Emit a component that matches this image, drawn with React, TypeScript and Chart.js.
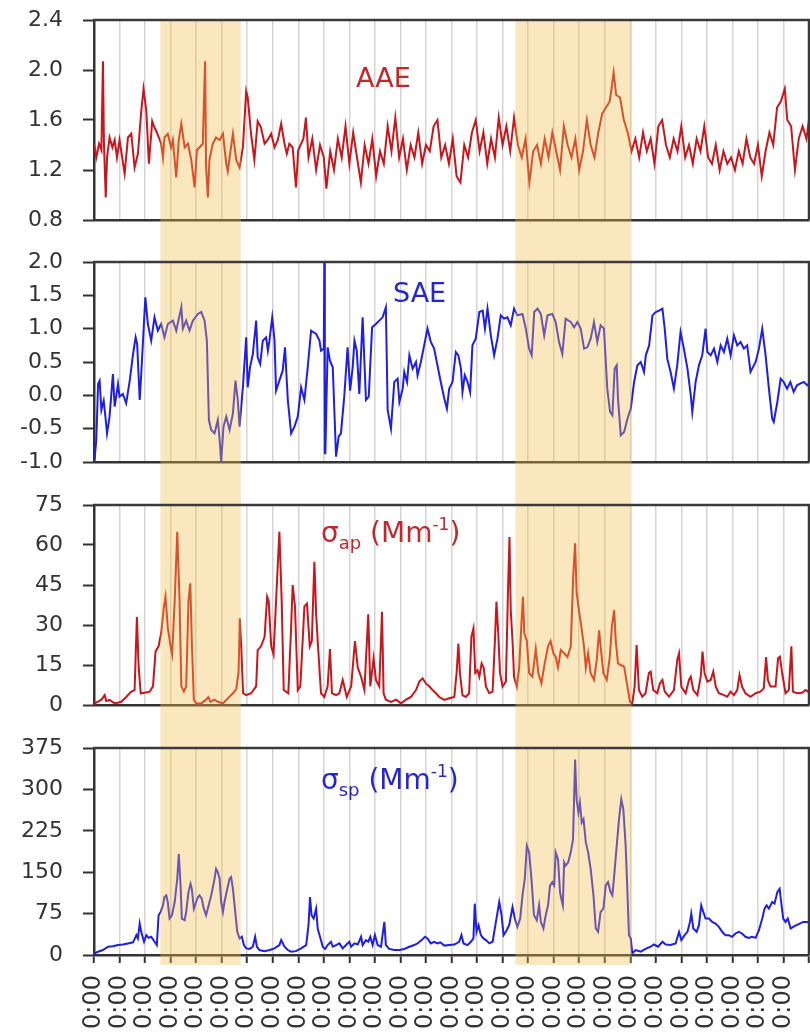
import React, { useEffect, useRef } from 'react';
import { Chart, registerables } from 'chart.js';

Chart.register(...registerables);

// ---- time axis (days), tick labels and shaded episodes ----
const dayCount = 28;
const dayTickLabel = '0:00';
const episodeStarts = [2.6, 16.5];
const episodeEnds = [5.75, 21.05];

// ---- series: [day, value] ----
const aaeSeries: [number, number][] = [
  [0.0, 1.41], [0.09, 1.3], [0.2, 1.41], [0.29, 1.36], [0.35, 2.07], [0.39, 1.41], [0.46, 0.98], [0.51, 1.3],
  [0.61, 1.46], [0.72, 1.38], [0.81, 1.44], [0.9, 1.3], [1.0, 1.44], [1.2, 1.17], [1.33, 1.46], [1.46, 1.49],
  [1.59, 1.22], [1.72, 1.33], [1.85, 1.67], [1.94, 1.85], [2.05, 1.67], [2.15, 1.25], [2.28, 1.59], [2.37, 1.54],
  [2.44, 1.51], [2.54, 1.46], [2.63, 1.41], [2.7, 1.3], [2.76, 1.46], [2.89, 1.49], [3.02, 1.38], [3.09, 1.44],
  [3.22, 1.14], [3.32, 1.44], [3.42, 1.57], [3.55, 1.38], [3.68, 1.41], [3.81, 1.28], [3.94, 1.06], [4.03, 1.36],
  [4.13, 1.38], [4.26, 1.41], [4.35, 2.07], [4.39, 1.22], [4.46, 0.98], [4.52, 1.28], [4.65, 1.41], [4.78, 1.46],
  [4.92, 1.44], [5.05, 1.49], [5.18, 1.25], [5.24, 1.19], [5.31, 1.3], [5.44, 1.49], [5.57, 1.28], [5.7, 1.22],
  [5.83, 1.38], [5.96, 1.83], [6.02, 1.78], [6.15, 1.49], [6.28, 1.28], [6.41, 1.59], [6.54, 1.54], [6.68, 1.41],
  [6.8, 1.44], [6.94, 1.49], [7.07, 1.38], [7.2, 1.44], [7.33, 1.57], [7.46, 1.41], [7.55, 1.33], [7.65, 1.41],
  [7.78, 1.38], [7.91, 1.06], [8.0, 1.36], [8.2, 1.45], [8.3, 1.62], [8.4, 1.3], [8.55, 1.45], [8.7, 1.2],
  [8.85, 1.4], [9.0, 1.3], [9.1, 1.05], [9.25, 1.35], [9.4, 1.2], [9.55, 1.45], [9.7, 1.3], [9.85, 1.55],
  [10.0, 1.25], [10.15, 1.5], [10.3, 1.3], [10.45, 1.1], [10.6, 1.4], [10.75, 1.25], [10.9, 1.45], [11.05, 1.15],
  [11.2, 1.35], [11.35, 1.25], [11.5, 1.55], [11.65, 1.35], [11.8, 1.62], [11.95, 1.3], [12.1, 1.45], [12.25, 1.2],
  [12.4, 1.4], [12.55, 1.3], [12.7, 1.5], [12.85, 1.25], [13.0, 1.4], [13.15, 1.35], [13.3, 1.55], [13.45, 1.6],
  [13.6, 1.3], [13.75, 1.4], [13.9, 1.25], [14.05, 1.45], [14.2, 1.15], [14.35, 1.1], [14.5, 1.4], [14.65, 1.3],
  [14.8, 1.5], [14.95, 1.6], [15.1, 1.35], [15.25, 1.5], [15.4, 1.25], [15.55, 1.45], [15.7, 1.3], [15.85, 1.62],
  [16.0, 1.4], [16.15, 1.55], [16.3, 1.35], [16.45, 1.62], [16.6, 1.4], [16.75, 1.3], [16.9, 1.45], [17.05, 1.1],
  [17.2, 1.35], [17.35, 1.4], [17.5, 1.25], [17.65, 1.45], [17.8, 1.3], [17.95, 1.5], [18.1, 1.35], [18.25, 1.2],
  [18.4, 1.55], [18.55, 1.4], [18.7, 1.3], [18.85, 1.45], [19.0, 1.2], [19.15, 1.35], [19.3, 1.6], [19.45, 1.4],
  [19.6, 1.3], [19.75, 1.5], [19.9, 1.65], [20.05, 1.7], [20.2, 1.75], [20.35, 1.98], [20.45, 1.8], [20.6, 1.78],
  [20.75, 1.6], [20.9, 1.5], [21.05, 1.35], [21.2, 1.45], [21.35, 1.3], [21.5, 1.5], [21.65, 1.35], [21.8, 1.45],
  [21.95, 1.25], [22.1, 1.55], [22.25, 1.6], [22.4, 1.4], [22.55, 1.3], [22.7, 1.45], [22.85, 1.35], [23.0, 1.55],
  [23.15, 1.3], [23.3, 1.4], [23.45, 1.25], [23.6, 1.45], [23.75, 1.35], [23.9, 1.55], [24.05, 1.3], [24.2, 1.25],
  [24.35, 1.4], [24.5, 1.2], [24.65, 1.35], [24.8, 1.25], [24.95, 1.3], [25.1, 1.2], [25.25, 1.35], [25.4, 1.25],
  [25.55, 1.45], [25.7, 1.3], [25.85, 1.25], [26.0, 1.4], [26.15, 1.15], [26.3, 1.35], [26.45, 1.5], [26.6, 1.4],
  [26.75, 1.7], [26.9, 1.75], [27.05, 1.85], [27.15, 1.6], [27.3, 1.55], [27.45, 1.2], [27.6, 1.45], [27.75, 1.55],
  [27.9, 1.45], [28.0, 1.6],
];

const saeSeries: [number, number][] = [
  [0.0, -0.95], [0.03, -0.92], [0.09, -0.67], [0.16, 0.17], [0.22, 0.22], [0.29, -0.22], [0.38, -0.08], [0.46, -0.37],
  [0.51, -0.57], [0.61, -0.32], [0.74, 0.32], [0.81, -0.17], [0.94, 0.17], [1.0, -0.02], [1.13, 0.02], [1.26, -0.12],
  [1.4, 0.22], [1.53, 0.62], [1.63, 0.87], [1.69, 0.77], [1.79, -0.07], [1.85, 0.32], [2.01, 1.47], [2.11, 1.07],
  [2.24, 0.82], [2.37, 1.17], [2.5, 0.97], [2.63, 1.07], [2.76, 0.87], [2.89, 1.07], [3.09, 1.12], [3.22, 0.97],
  [3.42, 1.32], [3.48, 1.0], [3.61, 1.12], [3.74, 0.97], [3.87, 1.12], [4.07, 1.22], [4.2, 1.25], [4.33, 1.12],
  [4.42, 0.82], [4.5, -0.37], [4.59, -0.52], [4.72, -0.57], [4.85, -0.37], [4.92, -0.67], [4.98, -1.0], [5.07, -0.47],
  [5.18, -0.32], [5.31, -0.52], [5.44, -0.27], [5.54, 0.22], [5.63, -0.07], [5.7, -0.47], [5.83, 0.12], [5.96, 0.87],
  [6.02, 0.12], [6.11, 0.42], [6.22, 0.62], [6.35, 1.12], [6.41, 0.57], [6.51, 0.47], [6.61, 0.82], [6.74, 0.87],
  [6.81, 0.67], [6.87, 0.82], [6.98, 1.17], [7.07, 0.82], [7.13, 0.07], [7.26, 0.22], [7.39, 0.37], [7.48, 0.72],
  [7.59, -0.07], [7.72, -0.57], [7.85, -0.47], [7.98, -0.32], [8.11, 0.12], [8.24, -0.07], [8.37, 0.42], [8.5, 0.97],
  [8.7, 0.92], [8.83, 0.82], [8.89, 0.67], [9.0, 0.7], [9.02, 2.0], [9.04, -0.87], [9.06, -0.87], [9.15, 0.72],
  [9.24, 0.52], [9.35, 0.42], [9.48, -0.92], [9.58, -0.62], [9.67, -0.57], [9.8, -0.02], [9.93, 0.72], [10.03, 0.07],
  [10.13, 0.42], [10.2, 0.82], [10.29, 0.67], [10.39, 0.02], [10.52, 1.17], [10.65, -0.07], [10.76, -0.02], [10.89, 1.02],
  [11.04, 1.07], [11.17, 1.12], [11.3, 1.17], [11.43, 1.32], [11.5, -0.22], [11.63, -0.5], [11.76, 0.2], [11.89, 0.25],
  [11.96, -0.1], [12.09, 0.1], [12.15, 0.35], [12.26, 0.2], [12.35, 0.6], [12.48, 0.4], [12.61, 0.5], [12.67, 0.3],
  [12.8, 0.5], [12.93, 0.75], [13.06, 1.0], [13.19, 0.8], [13.32, 0.7], [13.45, 0.45], [13.58, 0.2], [13.72, -0.05],
  [13.82, -0.2], [13.91, 0.1], [14.04, 0.2], [14.17, 0.65], [14.27, 0.6], [14.37, 0.4], [14.43, 0.05], [14.52, 0.3],
  [14.63, 0.2], [14.73, 0.05], [14.82, 0.75], [14.95, 0.85], [15.09, 1.25], [15.22, 1.27], [15.31, 1.0], [15.41, 1.3],
  [15.54, 0.9], [15.67, 0.6], [15.8, 0.85], [15.93, 1.2], [16.06, 1.15], [16.19, 1.17], [16.32, 1.05], [16.45, 1.3],
  [16.58, 1.2], [16.78, 1.22], [16.91, 1.0], [17.04, 0.7], [17.14, 0.6], [17.24, 1.25], [17.37, 1.3], [17.5, 1.22],
  [17.63, 0.9], [17.76, 1.2], [17.95, 1.22], [18.08, 1.1], [18.21, 0.8], [18.34, 0.62], [18.47, 1.15], [18.67, 1.1],
  [18.8, 1.02], [18.93, 1.1], [19.06, 1.0], [19.19, 0.7], [19.32, 0.72], [19.45, 0.85], [19.58, 1.1], [19.71, 0.8],
  [19.84, 1.05], [19.97, 1.0], [20.1, 0.1], [20.21, -0.25], [20.3, -0.3], [20.39, 0.4], [20.47, 0.45], [20.52, -0.05],
  [20.63, -0.6], [20.76, -0.55], [20.89, -0.35], [21.02, -0.2], [21.15, 0.2], [21.28, 0.45], [21.41, 0.5], [21.54, 0.35],
  [21.61, 0.6], [21.74, 0.75], [21.87, 1.2], [22.0, 1.25], [22.13, 1.27], [22.26, 1.3], [22.35, 1.0], [22.45, 0.55],
  [22.58, 0.35], [22.71, 0.1], [22.84, 0.45], [22.97, 0.95], [23.1, 0.7], [23.24, 0.4], [23.37, 0.0], [23.43, -0.25],
  [23.56, 0.2], [23.69, 0.45], [23.82, 0.6], [23.95, 1.0], [24.02, 0.65], [24.15, 0.6], [24.28, 0.7], [24.41, 0.5],
  [24.54, 0.75], [24.67, 0.65], [24.8, 0.85], [24.93, 0.6], [25.06, 0.9], [25.19, 0.75], [25.32, 0.8], [25.45, 0.7],
  [25.58, 0.75], [25.71, 0.35], [25.91, 0.5], [26.04, 0.7], [26.17, 1.0], [26.3, 0.6], [26.43, 0.1], [26.56, -0.35],
  [26.62, -0.4], [26.76, -0.1], [26.89, 0.25], [27.01, 0.2], [27.14, 0.1], [27.27, 0.2], [27.4, 0.05], [27.53, 0.15],
  [27.67, 0.18], [27.8, 0.2], [27.93, 0.15], [28.0, 0.18],
];

const absorptionSeries: [number, number][] = [
  [0.0, 0.5], [0.03, 0.6], [0.29, 2], [0.42, 3.7], [0.48, 1.5], [0.61, 1.9], [0.81, 0.6], [1.07, 1.2],
  [1.26, 3], [1.46, 5], [1.59, 5.6], [1.68, 33], [1.75, 14], [1.83, 4.4], [1.98, 4.6], [2.18, 5],
  [2.31, 7], [2.41, 20], [2.53, 22], [2.63, 27], [2.74, 37], [2.8, 40.6], [2.89, 29], [3.0, 22],
  [3.06, 19], [3.16, 39], [3.26, 65], [3.35, 39], [3.42, 7], [3.52, 5], [3.61, 7], [3.7, 39],
  [3.77, 45.6], [3.83, 24], [3.91, 2], [4.0, 0.6], [4.2, 0.6], [4.39, 2], [4.48, 3], [4.56, 1.2],
  [4.72, 2], [4.85, 1.2], [5.05, 0.6], [5.24, 2.5], [5.44, 4.4], [5.57, 6], [5.66, 12], [5.71, 32.5],
  [5.76, 23], [5.84, 4.4], [5.96, 3.7], [6.15, 4.4], [6.35, 7], [6.41, 20.6], [6.54, 22], [6.68, 25.6],
  [6.78, 40.6], [6.84, 39], [6.94, 22], [7.03, 19], [7.13, 39], [7.26, 65], [7.35, 39], [7.43, 5.6],
  [7.52, 5], [7.61, 4.4], [7.71, 27], [7.78, 45], [7.87, 37], [7.98, 5.6], [8.08, 7], [8.24, 37],
  [8.34, 38], [8.45, 22], [8.53, 24], [8.63, 53.7], [8.7, 34], [8.76, 24], [8.89, 4.4], [9.02, 3],
  [9.15, 7], [9.24, 21], [9.32, 4.4], [9.48, 3.7], [9.61, 4.4], [9.74, 9.4], [9.8, 7], [9.9, 3],
  [10.07, 7], [10.22, 24], [10.33, 14], [10.46, 10.6], [10.59, 5.6], [10.74, 34], [10.82, 7], [10.95, 17.5],
  [11.04, 9.4], [11.17, 7], [11.28, 35], [11.34, 4.4], [11.43, 2], [11.63, 1.2], [11.83, 2], [12.02, 0.6],
  [12.22, 2], [12.41, 3], [12.61, 5.6], [12.74, 8.75], [12.87, 10], [13.0, 8], [13.13, 7], [13.26, 5.6],
  [13.39, 4.4], [13.52, 3], [13.72, 1.9], [13.91, 2.5], [14.11, 3], [14.2, 12], [14.27, 23], [14.33, 12],
  [14.43, 3.7], [14.56, 3], [14.69, 4.4], [14.78, 25.6], [14.86, 28.75], [14.93, 12], [15.02, 13], [15.09, 10.6],
  [15.18, 15.6], [15.26, 14], [15.35, 6.9], [15.48, 4.4], [15.61, 5], [15.7, 24], [15.76, 38.75], [15.83, 27],
  [15.9, 12], [16.0, 6.9], [16.13, 8.75], [16.22, 45.6], [16.27, 63], [16.32, 35.6], [16.39, 24], [16.45, 10.6],
  [16.56, 6.9], [16.65, 14], [16.74, 30.6], [16.8, 40.6], [16.85, 27], [16.95, 24], [17.04, 12], [17.17, 10.6],
  [17.3, 21], [17.4, 12], [17.52, 8.1], [17.65, 15.6], [17.78, 22], [17.88, 24], [17.99, 19.4], [18.08, 18],
  [18.17, 14], [18.28, 20.6], [18.41, 19.4], [18.54, 18], [18.67, 21.9], [18.77, 49], [18.84, 60.6], [18.9, 42],
  [18.99, 35.6], [19.09, 29], [19.19, 21.9], [19.26, 14], [19.35, 19.4], [19.45, 11.9], [19.58, 9.4], [19.69, 16.9],
  [19.78, 28], [19.84, 21.9], [19.95, 11.9], [20.08, 9.4], [20.2, 18.1], [20.28, 29.4], [20.37, 35.6], [20.43, 24.4],
  [20.52, 15.6], [20.63, 15], [20.76, 14.4], [20.89, 6.9], [20.99, 1.2], [21.08, 0.6], [21.17, 6.9], [21.25, 22.5],
  [21.34, 5.6], [21.47, 3.1], [21.6, 4.4], [21.73, 12], [21.8, 12.5], [21.9, 5.6], [22.06, 4.4], [22.16, 8.1],
  [22.26, 9.4], [22.35, 5], [22.52, 3.1], [22.71, 5.6], [22.84, 16.9], [22.91, 19.4], [23.0, 6.9], [23.17, 4.4],
  [23.3, 9.4], [23.37, 10.6], [23.47, 5.6], [23.63, 3.7], [23.76, 10.6], [23.83, 20], [23.91, 11.9], [24.02, 8.75],
  [24.15, 9.4], [24.25, 12.5], [24.35, 6.9], [24.47, 4.4], [24.67, 3.7], [24.8, 3.1], [24.93, 5], [25.06, 3.7],
  [25.19, 5.6], [25.28, 11.25], [25.38, 6.9], [25.51, 4.4], [25.71, 3.1], [25.91, 4.4], [26.1, 5], [26.23, 6.25],
  [26.32, 18], [26.39, 9.4], [26.49, 6.9], [26.69, 6.9], [26.79, 17.5], [26.86, 18.1], [26.95, 11.9], [27.08, 4.4],
  [27.21, 5.6], [27.31, 22], [27.37, 5], [27.53, 4.4], [27.73, 4.6], [27.86, 5.6], [27.97, 5], [28.0, 5],
];

const scatteringSeries: [number, number][] = [
  [0.0, 2], [0.03, 3], [0.16, 6], [0.35, 9], [0.55, 15], [0.74, 16], [0.94, 18], [1.13, 19],
  [1.33, 21], [1.53, 23], [1.66, 36], [1.72, 30], [1.79, 57], [1.85, 42], [1.96, 24], [2.05, 36],
  [2.14, 31], [2.24, 33], [2.37, 24], [2.46, 18], [2.53, 72], [2.61, 78], [2.7, 90], [2.76, 105],
  [2.83, 108], [2.89, 96], [2.96, 66], [3.05, 72], [3.16, 96], [3.26, 138], [3.32, 183], [3.39, 126],
  [3.44, 66], [3.55, 63], [3.61, 78], [3.7, 114], [3.78, 129], [3.83, 120], [3.91, 84], [4.0, 96],
  [4.07, 105], [4.13, 108], [4.22, 102], [4.3, 84], [4.39, 72], [4.49, 90], [4.59, 108], [4.72, 138],
  [4.78, 156], [4.85, 150], [4.92, 138], [4.98, 96], [5.05, 78], [5.11, 96], [5.22, 120], [5.31, 138],
  [5.37, 141], [5.44, 120], [5.53, 78], [5.61, 42], [5.7, 30], [5.79, 33], [5.87, 18], [5.96, 12],
  [6.09, 11], [6.22, 15], [6.31, 33], [6.38, 15], [6.48, 9], [6.68, 7], [6.87, 9], [7.07, 12],
  [7.26, 18], [7.33, 27], [7.46, 15], [7.59, 9], [7.72, 6], [7.91, 7], [8.11, 12], [8.31, 18],
  [8.4, 54], [8.46, 105], [8.52, 72], [8.6, 66], [8.7, 84], [8.76, 48], [8.87, 30], [8.96, 15],
  [9.05, 11], [9.15, 18], [9.28, 24], [9.35, 15], [9.48, 18], [9.61, 21], [9.74, 12], [9.87, 18],
  [10.0, 24], [10.07, 15], [10.2, 21], [10.33, 19], [10.46, 33], [10.52, 18], [10.65, 27], [10.74, 24],
  [10.82, 33], [10.91, 18], [11.0, 36], [11.11, 18], [11.24, 15], [11.37, 60], [11.43, 18], [11.56, 11],
  [11.76, 9], [11.96, 9], [12.15, 11], [12.35, 15], [12.54, 18], [12.67, 21], [12.83, 27], [12.96, 33],
  [13.06, 30], [13.19, 21], [13.32, 24], [13.45, 21], [13.56, 23], [13.72, 17], [13.91, 18], [14.11, 19],
  [14.3, 24], [14.39, 36], [14.47, 21], [14.63, 18], [14.76, 24], [14.86, 30], [14.91, 93], [14.98, 42],
  [15.06, 54], [15.15, 36], [15.25, 30], [15.35, 27], [15.48, 21], [15.61, 24], [15.74, 60], [15.87, 96],
  [15.96, 72], [16.04, 36], [16.13, 42], [16.26, 54], [16.39, 87], [16.48, 66], [16.58, 51], [16.69, 66],
  [16.78, 108], [16.87, 138], [16.95, 198], [17.04, 186], [17.13, 138], [17.23, 72], [17.34, 63], [17.43, 90],
  [17.5, 60], [17.6, 48], [17.69, 72], [17.78, 90], [17.86, 126], [17.95, 132], [18.02, 126], [18.08, 186],
  [18.17, 174], [18.25, 114], [18.3, 102], [18.36, 90], [18.41, 168], [18.47, 162], [18.57, 168], [18.67, 186],
  [18.76, 210], [18.84, 354], [18.9, 282], [18.97, 258], [19.03, 276], [19.1, 240], [19.17, 246], [19.26, 204],
  [19.35, 186], [19.45, 156], [19.56, 108], [19.65, 48], [19.74, 42], [19.84, 78], [19.95, 84], [20.04, 126],
  [20.13, 132], [20.23, 114], [20.3, 108], [20.36, 138], [20.47, 198], [20.56, 246], [20.65, 282], [20.73, 264],
  [20.82, 198], [20.88, 126], [20.95, 36], [21.02, 30], [21.08, 3], [21.21, 9], [21.41, 6], [21.6, 11],
  [21.8, 15], [21.93, 19], [22.09, 15], [22.26, 24], [22.39, 19], [22.58, 18], [22.78, 21], [22.91, 42],
  [23.0, 27], [23.13, 36], [23.24, 42], [23.34, 60], [23.39, 75], [23.47, 48], [23.6, 42], [23.69, 54],
  [23.78, 90], [23.86, 78], [23.95, 66], [24.08, 66], [24.21, 60], [24.34, 57], [24.47, 51], [24.6, 42],
  [24.73, 36], [24.86, 36], [24.99, 33], [25.12, 39], [25.25, 42], [25.38, 39], [25.51, 33], [25.64, 31],
  [25.77, 33], [25.91, 31], [26.04, 45], [26.17, 66], [26.26, 84], [26.34, 90], [26.43, 84], [26.56, 96],
  [26.65, 93], [26.76, 114], [26.85, 120], [26.91, 96], [26.99, 66], [27.08, 60], [27.17, 66], [27.28, 48],
  [27.38, 51], [27.51, 54], [27.64, 57], [27.77, 60], [27.93, 60], [28.0, 58],
];

type TitlePart = { text: string; size: number; dy: number };

type Panel = {
  series: [number, number][];
  color: string;
  yMin: number;
  yMax: number;
  yStep: number;
  decimals: number;
  top: number;
  height: number;
  padTop: number;
  padBottom: number;
  bottomAxis: boolean;
  title: TitlePart[];
  titleLeft: number;
  titleBaseline: number;
  titleColor: string;
};

const RED = '#C8161C';
const BLUE = '#1E1EE6';
const FONT = '"DejaVu Sans", "Noto Sans", sans-serif';

const panels: Panel[] = [
  {
    series: aaeSeries, color: RED, yMin: 0.8, yMax: 2.4, yStep: 0.4, decimals: 1,
    top: 0, height: 240, padTop: 20, padBottom: 20, bottomAxis: false,
    title: [{ text: 'AAE', size: 27, dy: 0 }], titleLeft: 356, titleBaseline: 87, titleColor: '#C0282C',
  },
  {
    series: saeSeries, color: BLUE, yMin: -1, yMax: 2, yStep: 0.5, decimals: 1,
    top: 240, height: 244, padTop: 22, padBottom: 22, bottomAxis: false,
    title: [{ text: 'SAE', size: 27, dy: 0 }], titleLeft: 393, titleBaseline: 62, titleColor: '#2626D0',
  },
  {
    series: absorptionSeries, color: RED, yMin: 0, yMax: 75, yStep: 15, decimals: 0,
    top: 484, height: 243, padTop: 21, padBottom: 22, bottomAxis: false,
    title: [
      { text: 'σ', size: 28, dy: 0 },
      { text: 'ap', size: 18, dy: 7 },
      { text: ' (Mm', size: 28, dy: 0 },
      { text: '-1', size: 17, dy: -12 },
      { text: ')', size: 28, dy: 0 },
    ],
    titleLeft: 321, titleBaseline: 58, titleColor: '#C0282C',
  },
  {
    series: scatteringSeries, color: BLUE, yMin: 0, yMax: 375, yStep: 75, decimals: 0,
    top: 727, height: 308, padTop: 21, padBottom: 0, bottomAxis: true,
    title: [
      { text: 'σ', size: 28, dy: 0 },
      { text: 'sp', size: 18, dy: 7 },
      { text: ' (Mm', size: 28, dy: 0 },
      { text: '-1', size: 17, dy: -12 },
      { text: ')', size: 28, dy: 0 },
    ],
    titleLeft: 321, titleBaseline: 62, titleColor: '#2626D0',
  },
];

const WIDTH = 810;
const AXIS_LEFT = 94;

function PanelChart({ panel, index }: { panel: Panel; index: number }) {
  const ref = useRef<HTMLCanvasElement | null>(null);

  useEffect(() => {
    if (!ref.current) return;
    const isFirst = index === 0;
    const overlay = {
      id: 'overlay' + index,
      afterDatasetsDraw(chart: any) {
        const { ctx, chartArea, scales } = chart;
        const xs = scales.x;
        const y0 = isFirst ? chartArea.top : 0;
        const y1 = panel.bottomAxis ? chartArea.bottom + 10 : chart.height;
        ctx.save();
        ctx.fillStyle = 'rgba(244,189,75,0.36)';
        for (let i = 0; i < episodeStarts.length; i++) {
          const a = xs.getPixelForValue(episodeStarts[i]);
          const b = xs.getPixelForValue(episodeEnds[i]);
          ctx.fillRect(a, y0, b - a, y1 - y0);
        }
        ctx.restore();
      },
      afterDraw(chart: any) {
        const { ctx, chartArea } = chart;
        ctx.save();
        ctx.strokeStyle = '#3a3a3a';
        ctx.lineWidth = 2.5;
        ctx.beginPath();
        ctx.moveTo(chartArea.left - 1, chartArea.top);
        ctx.lineTo(chartArea.right, chartArea.top);
        ctx.lineTo(chartArea.right, chartArea.bottom);
        ctx.stroke();
        ctx.fillStyle = panel.titleColor;
        ctx.textBaseline = 'alphabetic';
        ctx.textAlign = 'left';
        let x = panel.titleLeft;
        for (const part of panel.title) {
          ctx.font = `${part.size}px ${FONT}`;
          ctx.fillText(part.text, x, panel.titleBaseline + part.dy);
          x += ctx.measureText(part.text).width;
        }
        ctx.restore();
      },
    };

    const chart = new Chart(ref.current, {
      type: 'line',
      data: {
        datasets: [
          {
            data: panel.series.map(([x, y]) => ({ x, y })),
            borderColor: panel.color,
            borderWidth: 2,
            pointRadius: 0,
            tension: 0,
            fill: false,
          },
        ],
      },
      options: {
        responsive: false,
        animation: false,
        events: [],
        layout: { padding: { top: panel.padTop, bottom: panel.padBottom, left: 0, right: 1 } },
        plugins: { legend: { display: false }, tooltip: { enabled: false }, title: { display: false } },
        scales: {
          x: {
            type: 'linear',
            min: 0,
            max: dayCount,
            afterFit: (s: any) => {
              s.height = panel.bottomAxis ? 80 : 0;
              s.paddingLeft = 0;
              s.paddingRight = 0;
              s.paddingTop = 0;
              s.paddingBottom = 0;
            },
            grid: {
              display: true,
              color: '#d4d4d4',
              lineWidth: 1.5,
              drawTicks: panel.bottomAxis,
              tickLength: 8,
              tickColor: '#333333',
              tickWidth: 2,
            },
            border: { display: true, color: '#333333', width: 2.5 },
            ticks: {
              display: panel.bottomAxis,
              stepSize: 1,
              autoSkip: false,
              minRotation: 90,
              maxRotation: 90,
              padding: 12,
              color: '#333333',
              font: { family: FONT, size: 24 },
              callback: (v: any) => (Number(v) < dayCount ? dayTickLabel : ''),
            },
          },
          y: {
            type: 'linear',
            min: panel.yMin,
            max: panel.yMax,
            afterFit: (s: any) => {
              s.width = AXIS_LEFT;
              s.paddingLeft = 0;
              s.paddingRight = 0;
              s.paddingTop = 0;
              s.paddingBottom = 0;
            },
            grid: {
              display: true,
              drawOnChartArea: false,
              drawTicks: true,
              tickLength: 11,
              tickColor: '#333333',
              tickWidth: 2,
            },
            border: { display: true, color: '#333333', width: 2.5 },
            ticks: {
              stepSize: panel.yStep,
              padding: 20,
              color: '#333333',
              font: { family: FONT, size: 22 },
              callback: (v: any) => Number(v).toFixed(panel.decimals),
            },
          },
        },
      },
      plugins: [overlay],
    });
    return () => chart.destroy();
  }, [panel, index]);

  return (
    <canvas
      ref={ref}
      width={WIDTH}
      height={panel.height}
      style={{ position: 'absolute', left: 0, top: panel.top, width: WIDTH, height: panel.height }}
    />
  );
}

export default function App() {
  return (
    <div style={{ position: 'absolute', left: 0, top: 0, width: WIDTH, height: 1035, background: '#ffffff', overflow: 'hidden' }}>
      {panels.map((p, i) => (
        <PanelChart key={i} panel={p} index={i} />
      ))}
    </div>
  );
}
